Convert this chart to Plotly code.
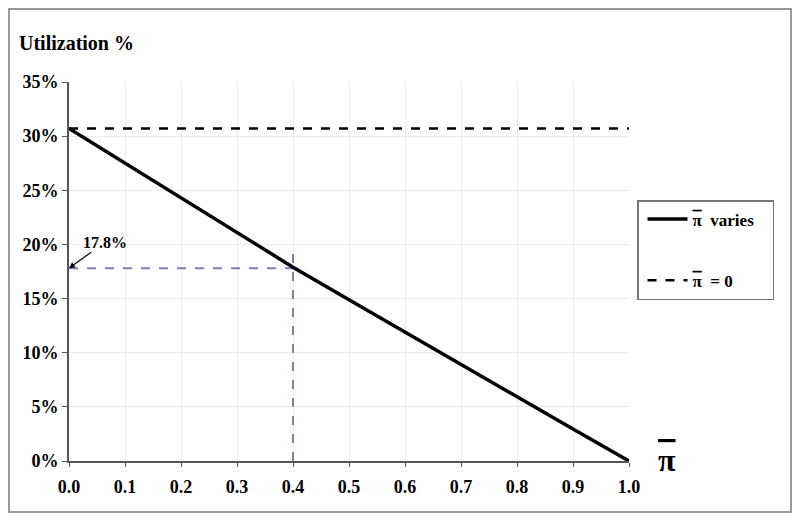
import plotly.graph_objects as go

# pi-bar values on the x axis
pi_bar = [0.0, 0.1, 0.2, 0.3, 0.4, 0.5, 0.6, 0.7, 0.8, 0.9, 1.0]
# utilization (%) when pi-bar varies
util_varies = [30.7, 27.5, 24.3, 21.1, 17.9, 14.9, 11.9, 8.9, 5.9, 2.95, 0.0]
# utilization (%) when pi-bar = 0
util_zero = [30.7, 30.7]
zero_x = [0.0, 1.0]

# marker for the 0.4 reading
mark_x = 0.4
mark_y = 17.8
mark_top = 19.2

serif = "Liberation Serif"
purple = "#8a7aa8"
PI = '<span style="text-decoration:overline">\u03c0</span>'

fig = go.Figure()

fig.add_trace(go.Scatter(
    x=[0.0, mark_x], y=[mark_y, mark_y], mode="lines",
    line={"color": purple, "width": 2, "dash": "dash"},
    showlegend=False, hoverinfo="skip",
))
fig.add_trace(go.Scatter(
    x=[mark_x, mark_x], y=[0, mark_top], mode="lines",
    line={"color": purple, "width": 2, "dash": "dash"},
    showlegend=False, hoverinfo="skip",
))

fig.add_trace(go.Scatter(
    x=pi_bar, y=util_varies, mode="lines",
    name=f"<b>{PI}  varies</b>   ",
    legendgroup="a",
    line={"color": "black", "width": 3.5},
))
fig.add_trace(go.Scatter(
    x=zero_x, y=util_zero, mode="lines",
    name=f"<b>{PI}  = 0</b>",
    legendgroup="b",
    line={"color": "black", "width": 2.5, "dash": "dash"},
))

# the page body has an 8px margin, so page px = figure px + 8
OFF = 8
L, R, T, B = 61, 171, 74, 64
W, H = 792, 517
pw, ph = W - L - R, H - T - B


def px(x):
    return (x - OFF - L) / pw


def py(y):
    return (H - B - (y - OFF)) / ph


fig.update_layout(
    width=W,
    height=H,
    margin={"l": L, "r": R, "t": T, "b": B},
    paper_bgcolor="white",
    plot_bgcolor="white",
    font={"family": serif, "color": "black"},
    legend={
        "x": px(637), "y": py(200), "xanchor": "left", "yanchor": "top",
        "bordercolor": "#777", "borderwidth": 1.5,
        "font": {"family": serif, "size": 17, "color": "black"},
        "tracegroupgap": 36, "itemwidth": 40,
        "indentation": 4,
    },
    shapes=[dict(
        type="rect", xref="paper", yref="paper",
        x0=px(9), x1=px(791), y0=py(512), y1=py(9),
        line={"color": "#999", "width": 2}, layer="below",
    )],
    annotations=[
        dict(text="<b>Utilization %</b>", xref="paper", yref="paper",
             x=px(17), y=py(43), xanchor="left", yanchor="middle",
             showarrow=False, font={"family": serif, "size": 20}),
        dict(text=f"<b>{PI}</b>", xref="paper", yref="paper",
             x=px(667), y=py(460), xanchor="center", yanchor="middle",
             showarrow=False, font={"family": serif, "size": 32}),
        dict(text="<b>17.8%</b>", x=0, y=mark_y, xref="x", yref="y",
             ax=36, ay=-26, showarrow=True, arrowhead=2, arrowsize=1,
             arrowwidth=1.2, arrowcolor="black",
             font={"family": serif, "size": 16}),
    ],
)

fig.update_xaxes(
    range=[0, 1], dtick=0.1, tickformat=".1f",
    showgrid=True, gridcolor="#ececec", gridwidth=1,
    showline=True, linecolor="#555", linewidth=2,
    ticks="outside", ticklen=4, tickcolor="#555",
    ticklabelstandoff=4,
    tickfont={"family": serif, "size": 18, "weight": "bold"},
    zeroline=False,
)
fig.update_yaxes(
    range=[0, 35], dtick=5, ticksuffix="%",
    showgrid=True, gridcolor="#ececec", gridwidth=1,
    showline=True, linecolor="#555", linewidth=2,
    ticks="outside", ticklen=5, tickcolor="#555",
    tickfont={"family": serif, "size": 18, "weight": "bold"},
    zeroline=False,
)

fig.write_html("out.html")
